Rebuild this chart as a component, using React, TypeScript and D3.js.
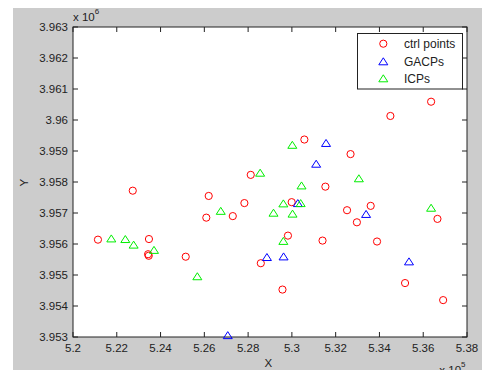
import React, { useRef, useEffect } from "react";
import * as d3 from "d3";

// values in axis units: X is x 10^5, Y is x 10^6
const ctrlX = [5.2114, 5.2273, 5.2347, 5.2343, 5.2346, 5.2515, 5.2609, 5.262, 5.273, 5.2783, 5.2812, 5.2999, 5.2982, 5.2858, 5.2957, 5.3057, 5.3153, 5.314, 5.3268, 5.3252, 5.336, 5.3297, 5.3389, 5.345, 5.3636, 5.3665, 5.3517, 5.3691];
const ctrlY = [3.95614, 3.95772, 3.95616, 3.95567, 3.95562, 3.95559, 3.95685, 3.95755, 3.9569, 3.95732, 3.95823, 3.95735, 3.95627, 3.95538, 3.95453, 3.95937, 3.95785, 3.95611, 3.9589, 3.95709, 3.95723, 3.9567, 3.95608, 3.96013, 3.96059, 3.95681, 3.95474, 3.95419];

const gacpX = [5.3156, 5.3111, 5.3027, 5.2886, 5.2962, 5.2707, 5.3339, 5.3535];
const gacpY = [3.95926, 3.95859, 3.95732, 3.95558, 3.9556, 3.95306, 3.95697, 3.95544];

const icpX = [5.2175, 5.2239, 5.2277, 5.237, 5.2568, 5.2675, 5.2855, 5.3002, 5.3044, 5.2961, 5.304, 5.2916, 5.3003, 5.2961, 5.3306, 5.3636];
const icpY = [3.95618, 3.95616, 3.95598, 3.95581, 3.95496, 3.95707, 3.9583, 3.9592, 3.95789, 3.95731, 3.95732, 3.95701, 3.95698, 3.9561, 3.95812, 3.95717];

const xTicks = ["5.2", "5.22", "5.24", "5.26", "5.28", "5.3", "5.32", "5.34", "5.36", "5.38"];
const yTicks = ["3.953", "3.954", "3.955", "3.956", "3.957", "3.958", "3.959", "3.96", "3.961", "3.962", "3.963"];

const series = [
    { name: "ctrl points", xs: ctrlX, ys: ctrlY, color: "#ff0000", shape: "circle" },
    { name: "GACPs", xs: gacpX, ys: gacpY, color: "#0000ff", shape: "triangle" },
    { name: "ICPs", xs: icpX, ys: icpY, color: "#00ee00", shape: "triangle" },
];

const App = () => {
    const ref = useRef(null);
    const width = 491;
    const height = 378;
    const left = 73;
    const right = 467;
    const top = 27;
    const bottom = 337;
    const font = "'Liberation Sans', Arial, sans-serif";
    const ink = "#222";

    useEffect(() => {
        const svg = d3.select(ref.current);
        svg.selectAll("*").remove();

        const x = d3.scaleLinear().domain([5.2, 5.38]).range([left, right]);
        const y = d3.scaleLinear().domain([3.953, 3.963]).range([bottom, top]);

        svg.append("rect")
            .attr("x", 13).attr("y", 6)
            .attr("width", 469).attr("height", 372)
            .attr("fill", "#cccccc");

        svg.append("rect")
            .attr("x", left).attr("y", top)
            .attr("width", right - left).attr("height", bottom - top)
            .attr("fill", "#fff");

        // ticks, pointing inward on all four sides
        const tk = 5;
        xTicks.forEach((t) => {
            const px = x(+t);
            svg.append("line").attr("x1", px).attr("x2", px).attr("y1", bottom).attr("y2", bottom - tk).attr("stroke", ink);
            svg.append("line").attr("x1", px).attr("x2", px).attr("y1", top).attr("y2", top + tk).attr("stroke", ink);
            svg.append("text").text(t)
                .attr("x", px).attr("y", 352)
                .attr("text-anchor", "middle")
                .style("font-family", font).style("font-size", "11.5px").style("fill", ink);
        });
        yTicks.forEach((t) => {
            const py = y(+t);
            svg.append("line").attr("x1", left).attr("x2", left + tk).attr("y1", py).attr("y2", py).attr("stroke", ink);
            svg.append("line").attr("x1", right).attr("x2", right - tk).attr("y1", py).attr("y2", py).attr("stroke", ink);
            svg.append("text").text(t)
                .attr("x", 68).attr("y", py + 4)
                .attr("text-anchor", "end")
                .style("font-family", font).style("font-size", "11.5px").style("fill", ink);
        });

        svg.append("rect")
            .attr("x", left).attr("y", top)
            .attr("width", right - left).attr("height", bottom - top)
            .attr("fill", "none").attr("stroke", ink);

        const tri = "M0,-3.5L4.5,3.5L-4.5,3.5Z";
        const drawMark = (g, shape, color) => {
            if (shape === "circle") {
                g.append("circle").attr("r", 3.6).attr("fill", "none").attr("stroke", color).attr("stroke-width", 1);
            } else {
                g.append("path").attr("d", tri).attr("fill", "none").attr("stroke", color).attr("stroke-width", 1);
            }
        };

        series.forEach((s) => {
            s.xs.forEach((v, i) => {
                const g = svg.append("g").attr("transform", `translate(${x(v)},${y(s.ys[i])})`);
                drawMark(g, s.shape, s.color);
            });
        });

        // legend
        svg.append("rect")
            .attr("x", 357.5).attr("y", 33.5)
            .attr("width", 105).attr("height", 55.5)
            .attr("fill", "#fff").attr("stroke", ink);
        const rows = [43.7, 61.3, 78.3];
        series.forEach((s, i) => {
            const g = svg.append("g").attr("transform", `translate(383.3,${rows[i]})`);
            drawMark(g, s.shape, s.color);
            svg.append("text").text(s.name)
                .attr("x", 404).attr("y", rows[i] + 4.3)
                .style("font-family", font).style("font-size", "12px").style("fill", ink);
        });

        // axis labels and exponents
        svg.append("text").text("X")
            .attr("x", 268.3).attr("y", 367)
            .attr("text-anchor", "middle")
            .style("font-family", font).style("font-size", "11.5px").style("fill", ink);
        svg.append("text").text("Y")
            .attr("transform", "translate(27.5,182.7) rotate(-90)")
            .attr("text-anchor", "middle")
            .style("font-family", font).style("font-size", "11.5px").style("fill", ink);

        const expo = (tx, ty, e) => {
            const t = svg.append("text")
                .attr("x", tx).attr("y", ty)
                .style("font-family", font).style("font-size", "11.5px").style("fill", ink);
            t.append("tspan").text("x 10");
            t.append("tspan").text(e).attr("dy", -7).style("font-size", "8px");
        };
        expo(73, 21, "6");
        expo(439.3, 374, "5");
    });

    return (
        <svg ref={ref} width={width} height={height} style={{ display: "block", margin: "-8px" }}></svg>
    );
};

export default App;
